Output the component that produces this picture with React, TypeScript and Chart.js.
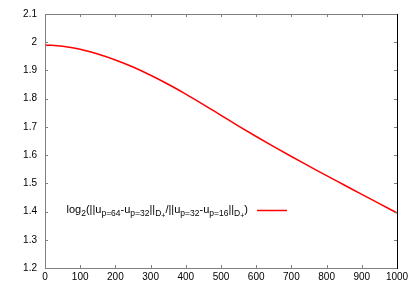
import React, { useEffect, useRef } from "react";
import { Chart, registerables } from "chart.js";

Chart.register(...registerables);

const xValues = [0, 50, 100, 150, 200, 250, 300, 350, 400, 450, 500, 550, 600, 650, 700, 750, 800, 850, 900, 950, 1000];
const yValues = [1.99, 1.986, 1.975, 1.958, 1.937, 1.912, 1.883, 1.851, 1.816, 1.779, 1.741, 1.703, 1.666, 1.630, 1.595, 1.561, 1.527, 1.494, 1.461, 1.428, 1.395];
const xTicks = [0, 100, 200, 300, 400, 500, 600, 700, 800, 900, 1000];
const yTicks = [1.2, 1.3, 1.4, 1.5, 1.6, 1.7, 1.8, 1.9, 2.0, 2.1];
const legendParts: [string, number][] = [
  ["log", 0], ["2", 1], ["(||u", 0], ["p=64", 1], ["-u", 0], ["p=32", 1], ["||", 0], ["D", 1], ["+", 2],
  ["/||u", 0], ["p=32", 1], ["-u", 0], ["p=16", 1], ["||", 0], ["D", 1], ["+", 2], [")", 0],
];

const FONT = "'Liberation Sans', Arial, Helvetica, sans-serif";

const framePlugin = {
  id: "frame",
  afterDraw(chart: any) {
    const { ctx, chartArea: a } = chart;
    const xs = chart.scales.x;
    const ys = chart.scales.y;
    ctx.save();
    ctx.lineWidth = 1;
    ctx.strokeStyle = "#808080";
    ctx.beginPath();
    ctx.moveTo(a.left + 0.5, a.top + 0.5);
    ctx.lineTo(a.left + 0.5, a.bottom + 0.5);
    ctx.lineTo(a.right, a.bottom + 0.5);
    ctx.moveTo(a.left, a.top + 0.5);
    ctx.lineTo(a.right, a.top + 0.5);
    const tl = 3;
    for (const v of xTicks) {
      const px = Math.round(xs.getPixelForValue(v)) + 0.5;
      ctx.moveTo(px, a.bottom);
      ctx.lineTo(px, a.bottom - tl);
      ctx.moveTo(px, a.top);
      ctx.lineTo(px, a.top + tl);
    }
    for (const v of yTicks) {
      const py = Math.round(ys.getPixelForValue(v)) + 0.5;
      ctx.moveTo(a.left, py);
      ctx.lineTo(a.left + tl, py);
      ctx.moveTo(a.right, py);
      ctx.lineTo(a.right - tl, py);
    }
    ctx.stroke();
    ctx.strokeStyle = "#000000";
    ctx.beginPath();
    ctx.moveTo(a.right + 0.5, a.top);
    ctx.lineTo(a.right + 0.5, a.bottom + 1);
    ctx.stroke();

    // legend
    const baseline = 213;
    const rightEdge = 248;
    const sizes = [11, 8.5, 7];
    const offs = [0, 3, 5];
    let total = 0;
    for (const [t, s] of legendParts) {
      ctx.font = `${sizes[s]}px ${FONT}`;
      total += ctx.measureText(t).width;
    }
    let x = rightEdge - total;
    ctx.fillStyle = "#000";
    ctx.textBaseline = "alphabetic";
    ctx.textAlign = "left";
    for (const [t, s] of legendParts) {
      ctx.font = `${sizes[s]}px ${FONT}`;
      ctx.fillText(t, x, baseline + offs[s]);
      x += ctx.measureText(t).width;
    }
    ctx.strokeStyle = "#ff0000";
    ctx.lineWidth = 1.5;
    ctx.beginPath();
    ctx.moveTo(257, 210.5);
    ctx.lineTo(287, 210.5);
    ctx.stroke();
    ctx.restore();
  },
};

export default function App() {
  const ref = useRef<HTMLCanvasElement>(null);
  useEffect(() => {
    document.body.style.margin = "0";
    const chart = new Chart(ref.current!, {
      type: "line",
      data: {
        datasets: [
          {
            data: xValues.map((x, i) => ({ x, y: yValues[i] })),
            borderColor: "#ff0000",
            borderWidth: 1.5,
            pointRadius: 0,
            cubicInterpolationMode: "monotone",
            fill: false,
          },
        ],
      },
      options: {
        animation: false,
        responsive: false,
        maintainAspectRatio: false,
        layout: { padding: { left: 0, top: 13, right: 18, bottom: 0 } },
        plugins: { legend: { display: false }, tooltip: { enabled: false } },
        scales: {
          x: {
            type: "linear",
            min: 0,
            max: 1000,
            afterFit: (s: any) => { s.height = 23; },
            afterBuildTicks: (s: any) => { s.ticks = xTicks.map((v) => ({ value: v })); },
            grid: { display: false, drawTicks: false },
            border: { display: false },
            ticks: {
              color: "#000",
              padding: 3,
              maxRotation: 0,
              autoSkip: false,
              font: { family: FONT, size: 10 },
              callback: (v: any) => String(Math.round(Number(v))),
            },
          },
          y: {
            type: "linear",
            min: 1.2,
            max: 2.1,
            afterFit: (s: any) => { s.width = 45; },
            afterBuildTicks: (s: any) => { s.ticks = yTicks.map((v) => ({ value: v })); },
            grid: { display: false, drawTicks: false },
            border: { display: false },
            ticks: {
              color: "#000",
              padding: 8,
              autoSkip: false,
              font: { family: FONT, size: 10 },
              callback: (v: any) => String(Math.round(Number(v) * 10) / 10),
            },
          },
        },
      },
      plugins: [framePlugin],
    });
    return () => chart.destroy();
  }, []);
  return (
    <div style={{ width: 415, height: 291 }}>
      <canvas ref={ref} width={415} height={291} style={{ width: 415, height: 291 }} />
    </div>
  );
}
